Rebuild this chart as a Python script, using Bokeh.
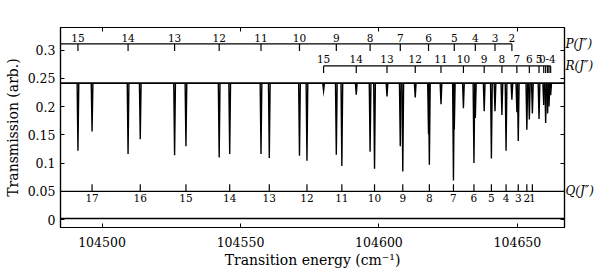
from bokeh.plotting import figure
from bokeh.models import LinearAxis, FixedTicker, Range1d, Span
from bokeh.core.properties import value
from bokeh.embed import file_html
from bokeh.resources import INLINE

# ---------------- data ----------------
x_ticks = [104500, 104550, 104600, 104650]
x_tick_labels = ["104500", "104550", "104600", "104650"]
y_ticks = [0, 0.05, 0.1, 0.15, 0.2, 0.25, 0.3]
y_tick_labels = ["0", "0.05", "0.1", "0.15", "0.2", "0.25", "0.3"]

baseline = 0.2415      # transmission level of the spectrum
residual = 0.002       # lower trace

# P branch
P_J = [15, 14, 13, 12, 11, 10, 9, 8, 7, 6, 5, 4, 3, 2]
P_pos = [104491.3, 104509.4, 104526.2, 104542.3, 104557.4, 104571.3, 104584.6,
         104596.8, 104607.7, 104617.9, 104627.2, 104634.8, 104641.9, 104648.0]
P_min = [0.122, 0.116, 0.114, 0.110, 0.116, 0.113, 0.115,
         0.120, 0.130, 0.151, 0.160, 0.180, 0.192, 0.212]

# Q branch
Q_J = [17, 16, 15, 14, 13, 12, 11, 10, 9, 8, 7, 6, 5, 4, 3, 2, 1]
Q_pos = [104496.4, 104513.8, 104530.3, 104546.1, 104560.4, 104574.0, 104586.6,
         104598.4, 104608.6, 104618.2, 104626.9, 104634.3, 104640.6, 104645.9,
         104650.3, 104653.4, 104655.4]
Q_min = [0.156, 0.142, 0.130, 0.116, 0.109, 0.104, 0.095,
         0.090, 0.085, 0.097, 0.069, 0.100, 0.108, 0.122,
         0.139, 0.159, 0.188]

# R branch
R_J = [15, 14, 13, 12, 11, 10, 9, 8, 7, 6, 5, 4, 3, 2, 1, 0]
R_pos = [104580.0, 104591.8, 104602.9, 104613.1, 104622.4, 104630.5, 104638.0,
         104644.4, 104649.8, 104654.3, 104657.8, 104659.5, 104660.2, 104660.9,
         104661.4, 104662.0]
R_min = [0.228, 0.221, 0.218, 0.216, 0.204, 0.197, 0.192,
         0.185, 0.190, 0.177, 0.178, 0.203, 0.171, 0.188,
         0.200, 0.220]
R_labels = ["15", "14", "13", "12", "11", "10", "9", "8", "7", "6", "5", "0-4"]

# heights of the branch label rulers
P_level = 0.311
R_level = 0.272
Q_level = 0.05

x_start, x_end = 104485, 104667
y_start, y_end = -0.014, 0.34

# ---------------- styling ----------------
SERIF = "DejaVu Serif"
tick_len = 0.0125
hw = 0.3  # half width of an absorption dip, cm^-1

p = figure(width=600, height=270,
           x_range=Range1d(x_start, x_end), y_range=Range1d(y_start, y_end),
           output_backend="svg", toolbar_location=None,
           min_border_left=60, min_border_right=36, min_border_top=27,
           min_border_bottom=41, background_fill_color="white")
p.xgrid.visible = False
p.ygrid.visible = False
p.outline_line_color = "black"
p.outline_line_width = 1.2

def style_axis(ax):
    ax.axis_line_color = "black"
    ax.axis_line_width = 1.2
    ax.major_tick_in = 4
    ax.major_tick_out = 0
    ax.major_tick_line_color = "black"
    ax.minor_tick_line_color = None
    ax.major_label_text_font = SERIF
    ax.major_label_text_font_size = "12.5px"
    ax.major_label_text_color = "black"
    ax.axis_label_text_font = SERIF
    ax.axis_label_text_font_size = "14px"
    ax.axis_label_text_font_style = "normal"
    ax.axis_label_text_color = "black"

xa = p.xaxis[0]
style_axis(xa)
xa.ticker = FixedTicker(ticks=x_ticks)
xa.major_label_overrides = {t: s for t, s in zip(x_ticks, x_tick_labels)}
xa.major_label_standoff = 9
xa.axis_label = "Transition energy (cm\u207b\u00b9)"
xa.axis_label_standoff = 2

ya = p.yaxis[0]
style_axis(ya)
ya.ticker = FixedTicker(ticks=y_ticks)
ya.major_label_overrides = {t: s for t, s in zip(y_ticks, y_tick_labels)}
ya.major_label_standoff = 5
ya.axis_label = "Transmission (arb.)"
ya.axis_label_standoff = 4

# mirrored ticks on top
top = LinearAxis(ticker=FixedTicker(ticks=x_ticks))
style_axis(top)
top.major_label_text_font_size = "0px"
top.major_label_overrides = {t: "" for t in x_ticks}
top.major_label_standoff = 0
p.add_layout(top, "above")

# mirrored ticks on right
right = LinearAxis(ticker=FixedTicker(ticks=y_ticks))
style_axis(right)
right.major_label_text_font_size = "0px"
right.major_label_overrides = {t: "" for t in y_ticks}
right.major_label_standoff = 0
p.add_layout(right, "right")

# branch names on right
names = LinearAxis(ticker=FixedTicker(ticks=[P_level, R_level, Q_level]))
names.major_label_overrides = {P_level: "P(J\u2033)", R_level: "R(J\u2033)", Q_level: "Q(J\u2033)"}
names.axis_line_color = None
names.major_tick_line_color = None
names.minor_tick_line_color = None
names.major_tick_in = 0
names.major_tick_out = 0
names.major_label_standoff = 1
names.major_label_text_font = SERIF
names.major_label_text_font_size = "12px"
names.major_label_text_font_style = "italic"
names.major_label_text_color = "black"
p.add_layout(names, "right")

# ---------------- spectrum ----------------
lines_pos = P_pos + Q_pos + R_pos
lines_min = P_min + Q_min + R_min
p.line([x_start, x_end], [baseline, baseline], line_color="black", line_width=1.6)
p.multi_line(xs=[[x - hw, x, x + hw] for x in lines_pos],
             ys=[[baseline, m, baseline] for m in lines_min],
             line_color="black", line_width=1.4, line_join="miter")
p.line([x_start, x_end], [residual, residual], line_color="black", line_width=1.4)

# ---------------- branch rulers ----------------
rc = "black"
# P
p.segment(x0=[x_start], y0=[P_level], x1=[P_pos[-1]], y1=[P_level], line_color=rc, line_width=1.2)
p.segment(x0=P_pos, y0=[P_level] * len(P_pos), x1=P_pos,
          y1=[P_level - tick_len] * len(P_pos), line_color=rc, line_width=1.2)
p.text(x=P_pos, y=[P_level] * len(P_pos), text=[str(j) for j in P_J],
       text_font=value(SERIF), text_font_size="10.5px", text_align="center",
       text_baseline="middle", y_offset=-6, text_color="black")
# R
R_label_pos = R_pos[:11] + [sum(R_pos[11:]) / len(R_pos[11:])]
p.segment(x0=[R_pos[0]], y0=[R_level], x1=[R_pos[-1]], y1=[R_level], line_color=rc, line_width=1.2)
p.segment(x0=R_pos, y0=[R_level] * len(R_pos), x1=R_pos,
          y1=[R_level - tick_len] * len(R_pos), line_color=rc, line_width=1.2)
p.text(x=R_label_pos, y=[R_level] * len(R_label_pos), text=R_labels,
       text_font=value(SERIF), text_font_size="10.5px", text_align="center",
       text_baseline="middle", y_offset=-7, text_color="black")
# Q
p.add_layout(Span(location=Q_level, dimension="width", line_color=rc, line_width=1.2))
p.segment(x0=Q_pos, y0=[Q_level] * len(Q_pos), x1=Q_pos,
          y1=[Q_level + tick_len] * len(Q_pos), line_color=rc, line_width=1.2)
p.text(x=Q_pos, y=[Q_level] * len(Q_pos), text=[str(j) for j in Q_J],
       text_font=value(SERIF), text_font_size="10.5px", text_align="center",
       text_baseline="middle", y_offset=7, text_color="black")

open("out.html", "w").write(file_html(p, INLINE))
